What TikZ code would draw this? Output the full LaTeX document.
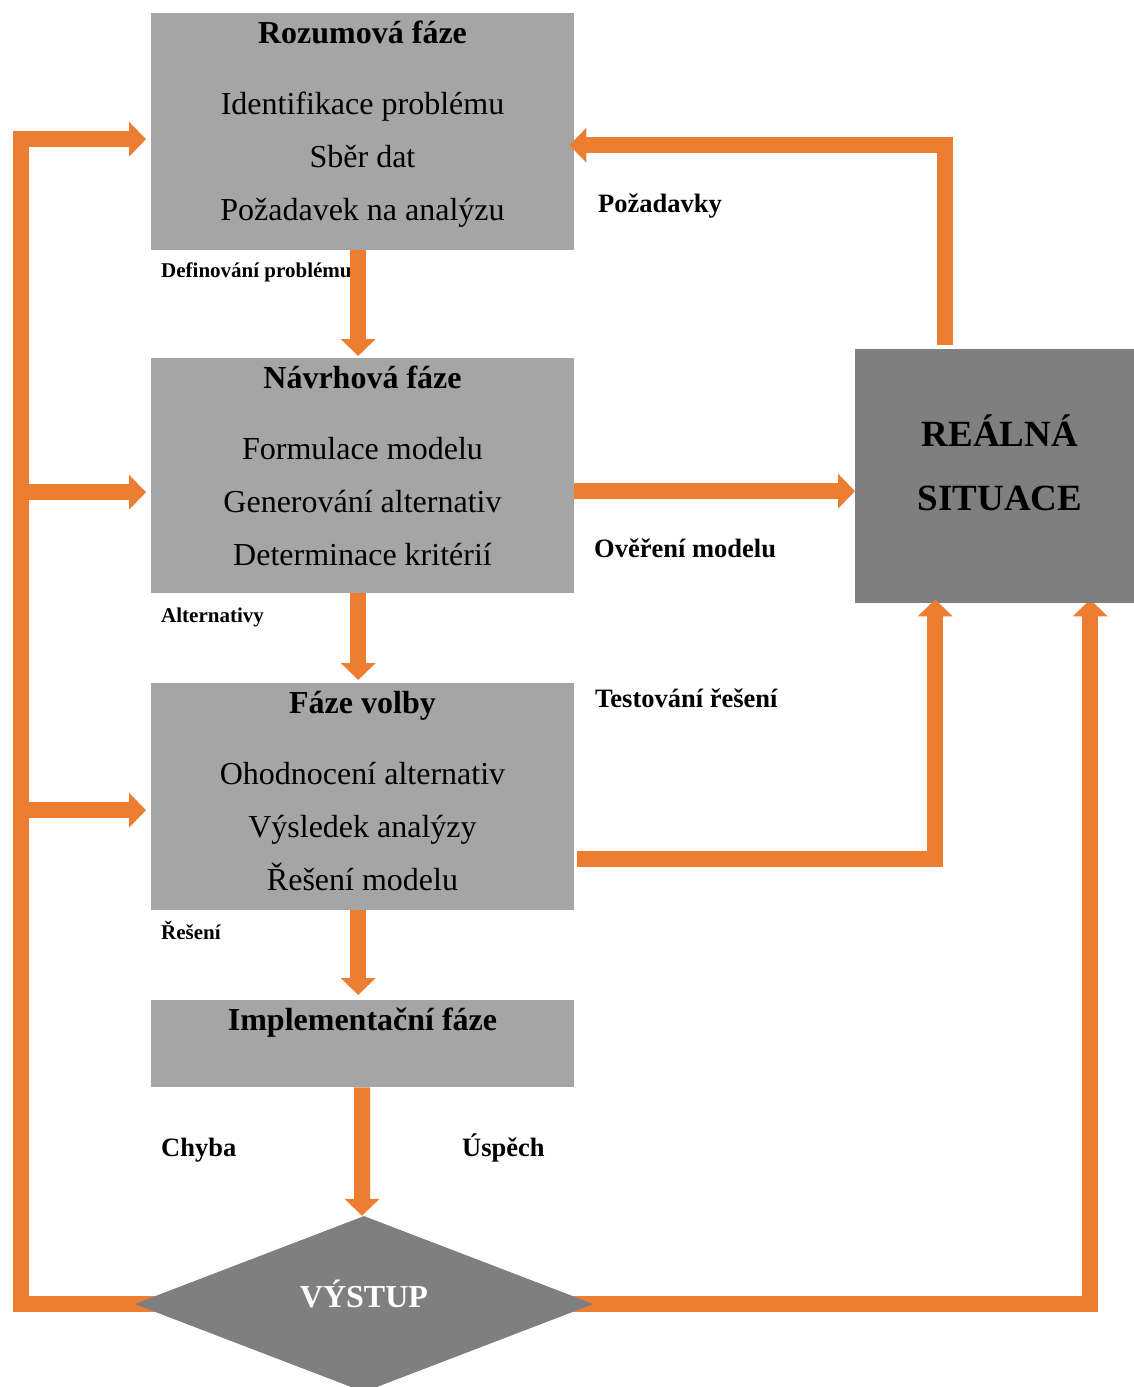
\documentclass[tikz,border=0pt]{standalone}
\usepackage{fontspec}
\setmainfont{Liberation Serif}
\usetikzlibrary{arrows.meta,shapes.geometric,calc}
\pgfdeclarelayer{bg}
\pgfsetlayers{bg,main}
\definecolor{flow}{HTML}{ED7D31}
\definecolor{phase}{HTML}{A5A5A5}
\definecolor{world}{HTML}{7F7F7F}

\begin{document}
\begin{tikzpicture}[x=1pt,y=-1pt,
  phasebox/.style={fill=phase, draw=none, minimum width=423pt, inner sep=0pt, anchor=north west},
  worldbox/.style={fill=world, draw=none, minimum width=279pt, minimum height=254pt, inner sep=0pt, anchor=north west},
  outbox/.style={shape=diamond, fill=world, draw=none, minimum width=459pt, minimum height=176pt, inner sep=0pt},
  flowline/.style={draw=flow, line width=16pt, line join=miter, line cap=butt,
                   -{Triangle[width=34pt,length=17pt]}},
  title/.style={font=\fontsize{32}{32}\selectfont\bfseries, anchor=base, inner sep=0pt},
  item/.style={font=\fontsize{32}{32}\selectfont, anchor=base, inner sep=0pt},
  bigtitle/.style={font=\fontsize{37}{37}\selectfont\bfseries, anchor=base, inner sep=0pt},
  outtext/.style={font=\fontsize{32}{32}\selectfont\bfseries, text=white, anchor=base, inner sep=0pt},
  lab/.style={font=\fontsize{26.5}{26.5}\selectfont\bfseries, anchor=base west, inner sep=0pt},
  smalllab/.style={font=\fontsize{21}{21}\selectfont\bfseries, anchor=base west, inner sep=0pt}]

\useasboundingbox (0,0) rectangle (1134,1387);

% phase boxes
\node[phasebox, minimum height=237pt] (b1) at (151,13) {};
\node[phasebox, minimum height=235pt] (b2) at (151,358) {};
\node[phasebox, minimum height=227pt] (b3) at (151,683) {};
\node[phasebox, minimum height=87pt]  (b4) at (151,1000) {};
\node[worldbox] (real) at (855,349) {};
\node[outbox] (vys) at (364,1304) {};

% box texts
\node[title] (t1) at (362.5,43) {Rozumová fáze};
\node[item] (t1a) at (362.5,114) {Identifikace problému};
\node[item] (t1b) at (362.5,167) {Sběr dat};
\node[item] (t1c) at (362.5,220) {Požadavek na analýzu};

\node[title] (t2) at (362.5,388) {Návrhová fáze};
\node[item] (t2a) at (362.5,459) {Formulace modelu};
\node[item] (t2b) at (362.5,512) {Generování alternativ};
\node[item] (t2c) at (362.5,565) {Determinace kritérií};

\node[title] (t3) at (362.5,713) {Fáze volby};
\node[item] (t3a) at (362.5,784) {Ohodnocení alternativ};
\node[item] (t3b) at (362.5,837) {Výsledek analýzy};
\node[item] (t3c) at (362.5,890) {Řešení modelu};

\node[title] (t4) at (362.5,1030) {Implementační fáze};

\node[bigtitle] (r1) at (1000,446) {REÁLNÁ};
\node[bigtitle] (r2) at (1000,510) {SITUACE};

\node[outtext] (vt) at (364,1307) {VÝSTUP};

% connector labels
\node[lab] (lp) at (598,212) {Požadavky};
\node[smalllab] (ld) at (161,277) {Definování problému};
\node[lab] (lo) at (594,557) {Ověření modelu};
\node[smalllab] (la) at (161,622) {Alternativy};
\node[lab] (lt) at (595,707) {Testování řešení};
\node[smalllab] (lr) at (161,939) {Řešení};
\node[lab] (lc1) at (161,1156) {Chyba};
\node[lab] (lu) at (462,1156) {Úspěch};

% feedback lines leaving the output diamond run beneath it
\coordinate (lc) at (21,1304);
\begin{pgfonlayer}{bg}
  \draw[flowline] (vys.center) -- (lc) |- ($(b1.west)+(-5,7.5)$);
  \draw[flowline] (vys.center) -| ($(real.south)+(95.5,-4)$);
\end{pgfonlayer}

% side branches into the phases
\draw[flowline] ($(lc |- b2.west)+(0,16.5)$) -- ($(b2.west)+(-5,16.5)$);
\draw[flowline] ($(lc |- b3.west)+(0,13.5)$) -- ($(b3.west)+(-5,13.5)$);

% main sequence
\draw[flowline] ($(b1.south)+(-4.5,0)$) -- ($(b2.north)+(-4.5,-2)$);
\draw[flowline] ($(b2.south)+(-4.5,0)$) -- ($(b3.north)+(-4.5,-3)$);
\draw[flowline] ($(b3.south)+(-4.5,0)$) -- ($(b4.north)+(-4.5,-5)$);
\draw[flowline] ($(b4.south)+(-0.5,0)$) -- ($(vys.north)+(-2,0)$);

% links with the real situation
\draw[flowline] ($(b2.east)+(0,15.5)$) -- ($(real.west)+(0,15)$);
\draw[flowline] ($(real.north)+(-49.5,-4)$) |- ($(b1.east)+(-5,13.5)$);
\draw[flowline] ($(b3.east)+(3,62.5)$) -| ($(real.south)+(-59.5,-4)$);

\end{tikzpicture}
\end{document}
